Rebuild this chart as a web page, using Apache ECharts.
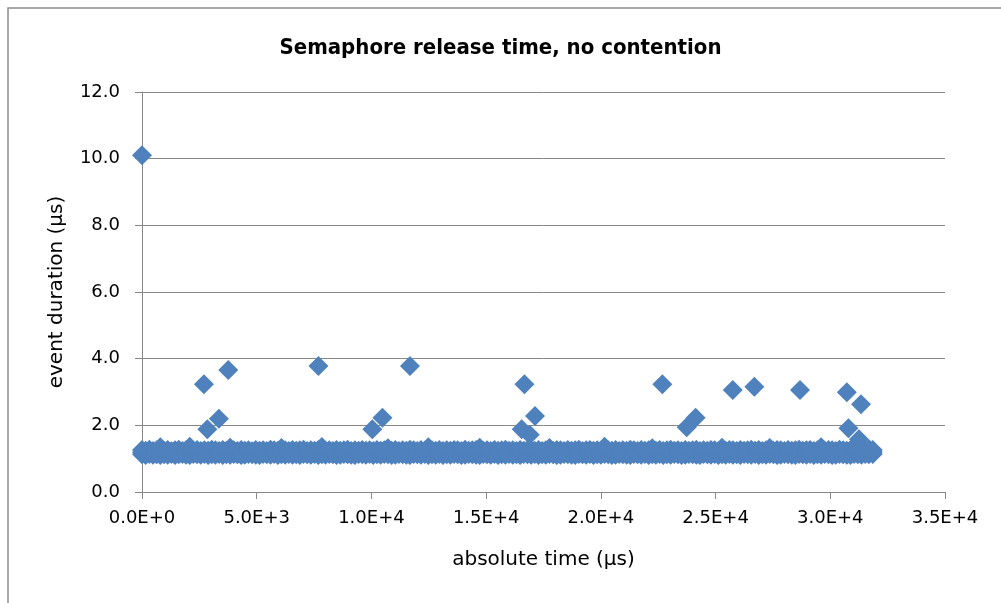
<!DOCTYPE html>
<html>
<head>
<meta charset="utf-8">
<script src="https://cdn.jsdelivr.net/npm/echarts@6/dist/echarts.min.js"></script>
<style>
html,body{margin:0;padding:0;background:#fff;}
#chart{width:1001px;height:603px;}
</style>
</head>
<body>
<div id="chart"></div>
<script>
// ---- data ----
const chartTitle = 'Semaphore release time, no contention';
const xAxisTitle = 'absolute time (µs)';
const yAxisTitle = 'event duration (µs)';
const xTickLabels = ['0.0E+0','5.0E+3','1.0E+4','1.5E+4','2.0E+4','2.5E+4','3.0E+4','3.5E+4'];
const yTickLabels = ['0.0','2.0','4.0','6.0','8.0','10.0','12.0'];

// dense band of ordinary events (time in µs)
const bandTime = [
0,158,322,479,641,798,962,1119,1283,1440,1601,1762,1918,2081,2240,2399,2562,2718,2881,3040,
3199,3361,3520,3678,3842,4001,4158,4322,4479,4640,4801,4959,5122,5280,5438,5601,5760,5921,6078,6241,
6400,6559,6722,6879,7040,7201,7358,7520,7681,7840,7999,8162,8320,8478,8641,8800,8961,9119,9280,9442,
9600,9758,9921,10080,10239,10402,10560,10719,10881,11040,11198,11361,11520,11680,11841,11999,12160,12322,12480,12639,
12801,12960,13119,13282,13440,13601,13759,13920,14081,14240,14398,14561,14720,14880,15041,15199,15361,15520,15679,15842,
16000,16160,16319,16481,16640,16799,16962,17120,17281,17439,17600,17760,17921,18079,18242,18400,18559,18721,18880,19041,
19199,19360,19522,19680,19839,20001,20160,20320,20479,20641,20800,20958,21121,21280,21440,21601,21759,21920,22081,22240,
22399,22561,22720,22879,23041,23200,23360,23519,23681,23840,23999,24162,24320,24480,24641,24799,24960,25121,25280,25439,
25601,25760,25920,26079,26241,26400,26559,26721,26880,27040,27199,27361,27520,27680,27839,28001,28160,28320,28479,28641,
28800,28960,29119,29281,29440,29600,29759,29921,30080,30240,30401,30560,30719,30881,31040,31200,31359,31521,31680,31850
];
const bandHigh = [
1.26,1.24,1.27,1.23,1.25,1.34,1.24,1.26,1.22,1.25,1.27,1.23,1.25,1.36,1.24,1.26,1.23,1.25,1.24,1.27,
1.25,1.23,1.26,1.24,1.33,1.25,1.23,1.26,1.24,1.25,1.22,1.26,1.24,1.25,1.23,1.27,1.25,1.24,1.32,1.25,
1.23,1.26,1.24,1.25,1.27,1.23,1.25,1.24,1.26,1.35,1.24,1.25,1.23,1.26,1.24,1.25,1.27,1.23,1.25,1.24,
1.26,1.24,1.25,1.23,1.26,1.24,1.25,1.31,1.24,1.26,1.23,1.25,1.24,1.27,1.25,1.23,1.26,1.24,1.34,1.25,
1.24,1.26,1.23,1.25,1.24,1.26,1.25,1.23,1.27,1.24,1.25,1.26,1.33,1.24,1.25,1.23,1.26,1.24,1.25,1.27,
1.24,1.25,1.23,1.26,1.24,1.25,1.27,1.24,1.26,1.23,1.25,1.32,1.24,1.26,1.25,1.23,1.26,1.24,1.25,1.27,
1.23,1.25,1.26,1.24,1.25,1.23,1.36,1.25,1.24,1.26,1.23,1.25,1.24,1.27,1.25,1.23,1.26,1.24,1.25,1.31,
1.24,1.26,1.23,1.25,1.27,1.24,1.25,1.23,1.26,1.24,1.25,1.27,1.23,1.25,1.24,1.26,1.25,1.23,1.33,1.24,
1.26,1.25,1.23,1.26,1.24,1.25,1.27,1.24,1.26,1.23,1.25,1.32,1.24,1.26,1.25,1.23,1.26,1.24,1.25,1.27,
1.24,1.25,1.26,1.23,1.25,1.34,1.24,1.26,1.25,1.23,1.27,1.25,1.24,1.26,1.28,1.25,1.27,1.24,1.29,1.26
];
const bandMid = [
1.19,1.18,1.20,1.18,1.19,1.20,1.18,1.19,1.20,1.18,1.19,1.20,1.18,1.19,1.20,1.19,1.18,1.20,1.19,1.18,
1.20,1.19,1.18,1.19,1.20,1.18,1.19,1.20,1.18,1.19,1.20,1.19,1.18,1.20,1.19,1.18,1.19,1.20,1.18,1.19,
1.18,1.20,1.19,1.18,1.19,1.20,1.18,1.19,1.20,1.18,1.19,1.20,1.18,1.19,1.20,1.19,1.18,1.20,1.19,1.18,
1.20,1.19,1.18,1.19,1.20,1.18,1.19,1.20,1.18,1.19,1.20,1.19,1.18,1.20,1.19,1.18,1.19,1.20,1.18,1.19,
1.18,1.20,1.19,1.18,1.19,1.20,1.18,1.19,1.20,1.18,1.19,1.20,1.18,1.19,1.20,1.19,1.18,1.20,1.19,1.18,
1.20,1.19,1.18,1.19,1.20,1.18,1.19,1.20,1.18,1.19,1.20,1.19,1.18,1.20,1.19,1.18,1.19,1.20,1.18,1.19,
1.18,1.20,1.19,1.18,1.19,1.20,1.18,1.19,1.20,1.18,1.19,1.20,1.18,1.19,1.20,1.19,1.18,1.20,1.19,1.18,
1.20,1.19,1.18,1.19,1.20,1.18,1.19,1.20,1.18,1.19,1.20,1.19,1.18,1.20,1.19,1.18,1.19,1.20,1.18,1.19,
1.18,1.20,1.19,1.18,1.19,1.20,1.18,1.19,1.20,1.18,1.19,1.20,1.18,1.19,1.20,1.19,1.18,1.20,1.19,1.18,
1.20,1.19,1.18,1.19,1.20,1.18,1.19,1.20,1.18,1.19,1.20,1.19,1.18,1.20,1.19,1.18,1.19,1.20,1.19,1.20
];
const bandLow = [
1.13,1.11,1.14,1.12,1.13,1.11,1.13,1.12,1.14,1.11,1.13,1.14,1.12,1.11,1.14,1.13,1.12,1.14,1.11,1.13,
1.12,1.14,1.11,1.13,1.12,1.14,1.13,1.11,1.12,1.14,1.13,1.12,1.11,1.14,1.13,1.12,1.14,1.11,1.13,1.12,
1.14,1.12,1.13,1.11,1.14,1.13,1.12,1.14,1.11,1.13,1.12,1.14,1.13,1.11,1.12,1.14,1.13,1.12,1.11,1.14,
1.13,1.12,1.14,1.11,1.13,1.12,1.14,1.13,1.11,1.12,1.14,1.13,1.12,1.11,1.14,1.13,1.12,1.14,1.11,1.13,
1.12,1.14,1.11,1.13,1.12,1.14,1.13,1.11,1.12,1.14,1.13,1.12,1.11,1.14,1.13,1.12,1.14,1.11,1.13,1.12,
1.14,1.12,1.13,1.11,1.14,1.13,1.12,1.14,1.11,1.13,1.12,1.14,1.13,1.11,1.12,1.14,1.13,1.12,1.11,1.14,
1.13,1.12,1.14,1.11,1.13,1.12,1.14,1.13,1.11,1.12,1.14,1.13,1.12,1.11,1.14,1.13,1.12,1.14,1.11,1.13,
1.12,1.14,1.11,1.13,1.12,1.14,1.13,1.11,1.12,1.14,1.13,1.12,1.11,1.14,1.13,1.12,1.14,1.11,1.13,1.12,
1.14,1.12,1.13,1.11,1.14,1.13,1.12,1.14,1.11,1.13,1.12,1.14,1.13,1.11,1.12,1.14,1.13,1.12,1.11,1.14,
1.13,1.12,1.14,1.11,1.13,1.12,1.14,1.13,1.11,1.12,1.14,1.13,1.12,1.11,1.14,1.13,1.12,1.14,1.13,1.14
];

// isolated slow events
const outlierTime  = [0, 2700, 2850, 3350, 3760, 7690, 10040, 10480, 11680, 16550, 16670, 16900, 17130, 22680, 23740, 24130, 25750, 26690, 28680, 30720, 30790, 31250, 31340];
const outlierValue = [10.10, 3.23, 1.88, 2.20, 3.66, 3.78, 1.88, 2.23, 3.78, 1.88, 3.23, 1.72, 2.28, 3.23, 1.94, 2.23, 3.06, 3.16, 3.06, 2.99, 1.91, 1.58, 2.63];

// ---- build ----
const points = [];
bandTime.forEach((t, i) => {
  points.push([t, bandLow[i]]);
  points.push([t, bandMid[i]]);
  points.push([t, bandHigh[i]]);
});
outlierTime.forEach((t, i) => points.push([t, outlierValue[i]]));

const labelFont = 'DejaVu Sans';
const gridColor = '#878787';

const chart = echarts.init(document.getElementById('chart'), null, {renderer: 'canvas'});
chart.setOption({
  animation: false,
  backgroundColor: '#ffffff',
  title: {
    text: chartTitle,
    left: 'center',
    top: 32,
    textStyle: {fontFamily: 'DejaVu Sans Condensed', fontWeight: 'bold', fontSize: 22, color: '#000'}
  },
  graphic: [{
    type: 'rect',
    shape: {x: 8, y: 8, width: 1100, height: 700},
    style: {fill: 'none', stroke: '#8c8c8c', lineWidth: 1.5},
    silent: true
  }],
  grid: {left: 142, top: 92, right: 56, bottom: 111, containLabel: false},
  xAxis: {
    type: 'value',
    min: 0, max: 35000, interval: 5000,
    name: xAxisTitle,
    nameLocation: 'middle',
    nameGap: 58,
    nameTextStyle: {fontFamily: labelFont, fontSize: 20, color: '#000'},
    axisLine: {show: true, lineStyle: {color: gridColor, width: 1}},
    axisTick: {show: true, length: 7, lineStyle: {color: gridColor}},
    axisLabel: {
      margin: 17, fontFamily: labelFont, fontSize: 18, color: '#000',
      formatter: v => xTickLabels[Math.round(v / 5000)]
    },
    splitLine: {show: false}
  },
  yAxis: {
    type: 'value',
    min: 0, max: 12, interval: 2,
    name: yAxisTitle,
    nameLocation: 'middle',
    nameRotate: 90,
    nameGap: 75,
    nameTextStyle: {fontFamily: labelFont, fontSize: 20, color: '#000'},
    axisLine: {show: true, lineStyle: {color: gridColor, width: 1}},
    axisTick: {show: true, length: 7, lineStyle: {color: gridColor}},
    axisLabel: {
      margin: 22, fontFamily: labelFont, fontSize: 18, color: '#000',
      formatter: v => yTickLabels[Math.round(v / 2)]
    },
    splitLine: {show: true, lineStyle: {color: gridColor, width: 1}}
  },
  series: [{
    type: 'scatter',
    symbol: 'diamond',
    symbolSize: 20,
    itemStyle: {color: '#4f81bd', opacity: 1, borderWidth: 0},
    emphasis: {disabled: true},
    data: points
  }]
});
</script>
</body>
</html>
